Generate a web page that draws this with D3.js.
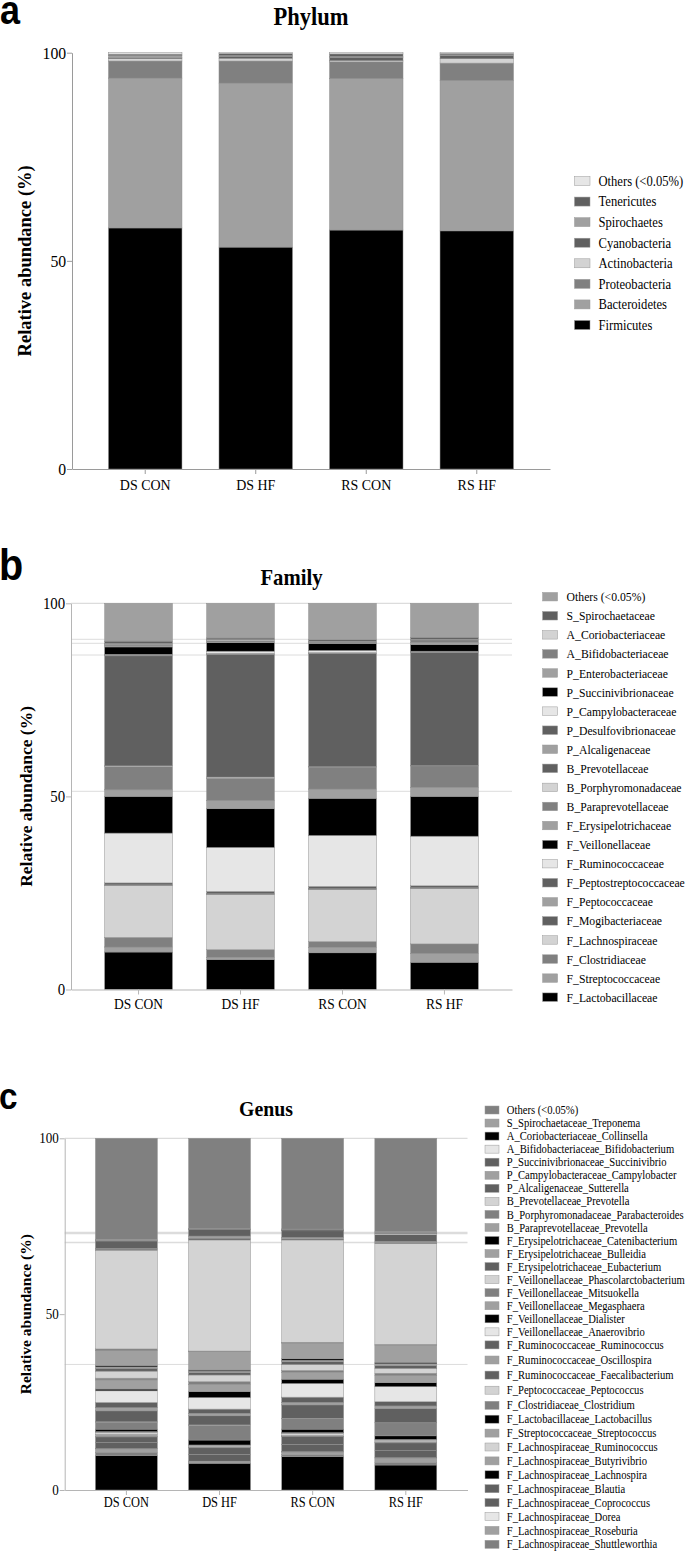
<!DOCTYPE html>
<html><head><meta charset="utf-8">
<script src="https://cdn.jsdelivr.net/npm/d3@7"></script>
<style>body{margin:0;background:#fff;overflow:hidden;} svg{display:block;background:#fff;}</style>
</head><body><svg id="chart" width="685" height="1552"></svg>
<script>
// ---------- DATA ----------
const groups = ["DS CON", "DS HF", "RS CON", "RS HF"];
const yTicks = [0, 50, 100];

// Phylum (legend order, top -> bottom)
const phylumNames = ["Others (<0.05%)", "Tenericutes", "Spirochaetes", "Cyanobacteria", "Actinobacteria", "Proteobacteria", "Bacteroidetes", "Firmicutes"];
const phylumValues = [
  [0.35, 0.2, 0.3, 0.2],
  [0.35, 0.45, 0.6, 0.3],
  [0.5, 0.2, 0.2, 0.15],
  [0.25, 0.5, 0.8, 0.8],
  [0.55, 0.65, 0.3, 1.05],
  [4.1, 5.3, 4.05, 4.2],
  [36.0, 39.4, 36.35, 36.1],
  [57.9, 53.3, 57.4, 57.2]
];
const phylumColors = ["#e6e6e6", "#606060", "#a0a0a0", "#606060", "#d3d3d3", "#808080", "#a0a0a0", "#000000"];

// Family (legend order, top -> bottom)
const familyNames = ["Others (<0.05%)", "S_Spirochaetaceae", "A_Coriobacteriaceae", "A_Bifidobacteriaceae", "P_Enterobacteriaceae", "P_Succinivibrionaceae", "P_Campylobacteraceae", "P_Desulfovibrionaceae", "P_Alcaligenaceae", "B_Prevotellaceae", "B_Porphyromonadaceae", "B_Paraprevotellaceae", "F_Erysipelotrichaceae", "F_Veillonellaceae", "F_Ruminococcaceae", "F_Peptostreptococcaceae", "F_Peptococcaceae", "F_Mogibacteriaceae", "F_Lachnospiraceae", "F_Clostridiaceae", "F_Streptococcaceae", "F_Lactobacillaceae"];
const familyValues = [
  [9.8, 9.0, 9.4, 8.8],
  [0.6, 0.4, 0.4, 0.5],
  [0.2, 0.3, 0.2, 0.2],
  [0.4, 0.3, 0.2, 0.6],
  [0.3, 0.2, 0.2, 0.6],
  [1.9, 2.2, 1.8, 1.7],
  [0.1, 0.6, 0.6, 0.1],
  [0.1, 0.1, 0.1, 0.1],
  [0.2, 0.1, 0.1, 0.1],
  [28.5, 31.8, 29.3, 29.3],
  [0.2, 0.3, 0.1, 0.1],
  [6.0, 5.8, 5.7, 5.6],
  [1.7, 2.1, 2.4, 2.3],
  [9.5, 10.0, 9.6, 10.3],
  [12.9, 11.4, 13.2, 12.85],
  [0.5, 0.6, 0.6, 0.45],
  [0.1, 0.1, 0.1, 0.1],
  [0.1, 0.1, 0.1, 0.1],
  [13.4, 14.3, 13.5, 14.4],
  [2.5, 1.95, 1.5, 2.5],
  [1.3, 0.6, 1.4, 2.25],
  [9.7, 7.75, 9.5, 7.05]
];
const familyColors = ["#a0a0a0", "#606060", "#d3d3d3", "#808080", "#a0a0a0", "#000000", "#e6e6e6", "#606060", "#a0a0a0", "#606060", "#d3d3d3", "#808080", "#a0a0a0", "#000000", "#e6e6e6", "#606060", "#a0a0a0", "#606060", "#d3d3d3", "#808080", "#a0a0a0", "#000000"];

// Genus (legend order, top -> bottom; last entry continues below the page)
const genusNames = ["Others (<0.05%)", "S_Spirochaetaceae_Treponema", "A_Coriobacteriaceae_Collinsella", "A_Bifidobacteriaceae_Bifidobacterium", "P_Succinivibrionaceae_Succinivibrio", "P_Campylobacteraceae_Campylobacter", "P_Alcaligenaceae_Sutterella", "B_Prevotellaceae_Prevotella", "B_Porphyromonadaceae_Parabacteroides", "B_Paraprevotellaceae_Prevotella", "F_Erysipelotrichaceae_Catenibacterium", "F_Erysipelotrichaceae_Bulleidia", "F_Erysipelotrichaceae_Eubacterium", "F_Veillonellaceae_Phascolarctobacterium", "F_Veillonellaceae_Mitsuokella", "F_Veillonellaceae_Megasphaera", "F_Veillonellaceae_Dialister", "F_Veillonellaceae_Anaerovibrio", "F_Ruminococcaceae_Ruminococcus", "F_Ruminococcaceae_Oscillospira", "F_Ruminococcaceae_Faecalibacterium", "F_Peptococcaceae_Peptococcus", "F_Clostridiaceae_Clostridium", "F_Lactobacillaceae_Lactobacillus", "F_Streptococcaceae_Streptococcus", "F_Lachnospiraceae_Ruminococcus", "F_Lachnospiraceae_Butyrivibrio", "F_Lachnospiraceae_Lachnospira", "F_Lachnospiraceae_Blautia", "F_Lachnospiraceae_Coprococcus", "F_Lachnospiraceae_Dorea", "F_Lachnospiraceae_Roseburia", "F_Lachnospiraceae_Shuttleworthia", "F_Lachnospiraceae_Other"];
const genusValues = [
  [28.7, 25.6, 25.8, 26.5],
  [0.35, 0.2, 0.1, 0.3],
  [0.05, 0.1, 0.3, 0.2],
  [0.1, 0.1, 0.1, 0.4],
  [2.1, 1.8, 1.9, 1.9],
  [0.2, 0.6, 0.4, 0.3],
  [0.3, 0.5, 0.3, 0.3],
  [28.1, 31.6, 29.1, 28.7],
  [0.5, 0.2, 0.2, 0.2],
  [4.2, 5.2, 4.5, 4.9],
  [0.4, 0.3, 0.4, 0.4],
  [0.4, 0.4, 0.4, 0.5],
  [0.8, 0.7, 0.8, 0.8],
  [2.0, 1.9, 1.7, 1.4],
  [0.5, 0.8, 0.5, 0.7],
  [2.6, 2.0, 2.0, 2.0],
  [0.5, 1.7, 1.2, 1.1],
  [3.3, 3.3, 3.9, 4.3],
  [1.5, 1.2, 1.5, 1.2],
  [0.9, 0.7, 0.7, 0.7],
  [3.1, 2.6, 3.8, 4.0],
  [0.1, 0.1, 0.1, 0.1],
  [2.0, 4.2, 3.0, 3.7],
  [0.7, 1.4, 1.0, 1.0],
  [0.2, 0.1, 0.2, 0.2],
  [0.6, 0.4, 0.6, 0.5],
  [0.6, 0.2, 0.2, 0.2],
  [0.1, 0.1, 0.1, 0.1],
  [1.6, 1.9, 2.2, 2.2],
  [1.7, 1.9, 2.1, 2.0],
  [0.1, 0.1, 0.1, 0.1],
  [1.0, 0.3, 0.8, 1.3],
  [0.9, 0.2, 0.5, 0.7],
  [9.8, 7.6, 9.5, 7.1]
];
const genusColors = ["#808080", "#a0a0a0", "#000000", "#e6e6e6", "#606060", "#a0a0a0", "#606060", "#d3d3d3", "#808080", "#a0a0a0", "#000000", "#a0a0a0", "#606060", "#d3d3d3", "#808080", "#a0a0a0", "#000000", "#e6e6e6", "#606060", "#a0a0a0", "#606060", "#d3d3d3", "#808080", "#000000", "#a0a0a0", "#d3d3d3", "#a0a0a0", "#000000", "#606060", "#606060", "#e6e6e6", "#a0a0a0", "#808080", "#000000"];

// faint reference lines present in panels b and c (value, stroke width)
const familyRefLines = [[100, 1.2], [90.68, 1], [89.64, 1], [86.61, 1], [51.32, 1]];
const genusRefLines = [[100, 1.2], [73.1, 2.5], [70.4, 1.5], [35.7, 1]];

// ---------- DRAW ----------
const W = 685, H = 1552;
const svg = d3.select("#chart");
const SERIF = "'Liberation Serif', 'Times New Roman', serif";
const SQ = 0.9;

function drawPanel(p) {
  const g = svg.append("g");
  const x = d3.scaleBand().domain(groups).range([p.x0, p.x1]).paddingInner(0.335).paddingOuter(0.33);
  const y = d3.scaleLinear().domain([0, 100]).range([p.yBottom, p.yTop]);

  g.selectAll("line.ref").data(p.refLines).join("line").attr("class", "ref")
    .attr("x1", p.x0).attr("x2", p.x1)
    .attr("y1", d => y(d[0])).attr("y2", d => y(d[0]))
    .attr("stroke", "#dcdcdc").attr("stroke-width", d => d[1]);

  const rows = groups.map((gr, j) => ({ group: gr, vals: p.values.map(v => v[j]) }));
  const keys = d3.range(p.names.length).reverse();
  const series = d3.stack().keys(keys).value((d, k) => d.vals[k])(rows);

  g.selectAll("g.layer").data(series).join("g").attr("class", "layer")
    .attr("fill", s => p.colors[s.key])
    .selectAll("rect").data(s => s).join("rect")
    .attr("x", d => x(d.data.group))
    .attr("y", d => y(d[1]))
    .attr("width", x.bandwidth())
    .attr("height", d => Math.max(0, y(d[0]) - y(d[1])))
    .attr("stroke", "#8f8f8f").attr("stroke-width", 0.5);

  const ya = g.append("g").attr("transform", `translate(${p.x0},0)`)
    .call(d3.axisLeft(y).tickValues(yTicks).tickSize(5).tickSizeOuter(0).tickPadding(p.tickPad));
  ya.select(".domain").attr("stroke", p.axisColor);
  ya.selectAll(".tick line").attr("stroke", p.axisColor);
  ya.selectAll(".tick text").attr("font-family", SERIF).attr("font-size", p.tickFont)
    .attr("fill", "#000").attr("transform", `scale(${SQ},1)`);

  const xa = g.append("g").attr("transform", `translate(0,${p.yBottom})`)
    .call(d3.axisBottom(x).tickSize(5).tickSizeOuter(0).tickPadding(p.xPad));
  xa.select(".domain").attr("stroke", p.axisColor);
  xa.selectAll(".tick line").attr("stroke", p.axisColor);
  xa.selectAll(".tick text").attr("font-family", SERIF).attr("font-size", p.xFont)
    .attr("fill", "#000").attr("transform", `scale(${SQ},1)`);

  g.append("text")
    .attr("transform", `translate(${p.ylabX},${(p.yTop + p.yBottom) / 2}) rotate(-90)`)
    .attr("text-anchor", "middle").attr("font-family", SERIF).attr("font-weight", "bold")
    .attr("font-size", p.ylabSize).text("Relative abundance (%)");

  g.append("text")
    .attr("transform", `translate(${p.titleX},${p.titleY}) scale(${SQ},1)`)
    .attr("text-anchor", "middle").attr("font-family", SERIF).attr("font-weight", "bold")
    .attr("font-size", p.titleSize).text(p.title);

  g.append("text")
    .attr("transform", `translate(${p.letterX},${p.letterY}) scale(${SQ},1)`)
    .attr("font-family", "'Liberation Sans', Arial, sans-serif").attr("font-weight", "bold")
    .attr("font-size", p.letterSize).text(p.letter);

  const items = p.names.map((n, i) => ({ name: n, color: p.colors[i], cy: p.legendY(i) }))
    .filter(d => d.cy < H - 4);
  const lg = g.append("g").selectAll("g").data(items).join("g");
  lg.append("rect").attr("x", p.swX).attr("y", d => d.cy - p.swH / 2)
    .attr("width", p.swW).attr("height", p.swH).attr("fill", d => d.color)
    .attr("stroke", "#9a9a9a").attr("stroke-width", 0.5);
  lg.append("text").attr("transform", d => `translate(${p.textX},${d.cy}) scale(${SQ},1)`)
    .attr("dy", "0.35em").attr("font-family", SERIF).attr("font-size", p.legendFont)
    .attr("fill", "#000").text(d => d.name);
}

drawPanel({
  names: phylumNames, values: phylumValues, colors: phylumColors, refLines: [],
  x0: 72, x1: 550, yTop: 52.7, yBottom: 469, axisColor: "#9a9a9a",
  tickFont: 17.5, tickPad: 1.5, xFont: 15.5, xPad: 5.5,
  ylabX: 31, ylabSize: 18.5,
  title: "Phylum", titleX: 311, titleY: 24.5, titleSize: 25,
  letter: "a", letterX: 0, letterY: 23.5, letterSize: 40,
  swX: 574.5, swW: 15.5, swH: 9, textX: 598.5, legendFont: 14,
  legendY: i => 181 + i * 20.57
});

drawPanel({
  names: familyNames, values: familyValues, colors: familyColors, refLines: familyRefLines,
  x0: 71, x1: 512, yTop: 603.3, yBottom: 989.5, axisColor: "#b5b5b5",
  tickFont: 16.5, tickPad: 1.5, xFont: 15, xPad: 3.5,
  ylabX: 31.5, ylabSize: 17.5,
  title: "Family", titleX: 291.5, titleY: 585, titleSize: 23,
  letter: "b", letterX: -1, letterY: 580, letterSize: 44,
  swX: 542.6, swW: 15, swH: 8.5, textX: 566.6, legendFont: 13,
  legendY: i => 596.7 + i * 19.07
});

drawPanel({
  names: genusNames, values: genusValues, colors: genusColors, refLines: genusRefLines,
  x0: 64.7, x1: 467.5, yTop: 1138.3, yBottom: 1490, axisColor: "#b5b5b5",
  tickFont: 14.5, tickPad: 1.5, xFont: 13.8, xPad: 2,
  ylabX: 30.5, ylabSize: 15.5,
  title: "Genus", titleX: 266, titleY: 1116, titleSize: 22,
  letter: "c", letterX: -1, letterY: 1109, letterSize: 37,
  swX: 485, swW: 14, swH: 8, textX: 506.8, legendFont: 11.8,
  legendY: i => i <= 18 ? 1110 + i * 13.05
    : i <= 22 ? 1110 + 18 * 13.05 + (i - 18) * 15.1
    : 1110 + 18 * 13.05 + 4 * 15.1 + (i - 22) * 13.9
});
</script>
</body></html>
